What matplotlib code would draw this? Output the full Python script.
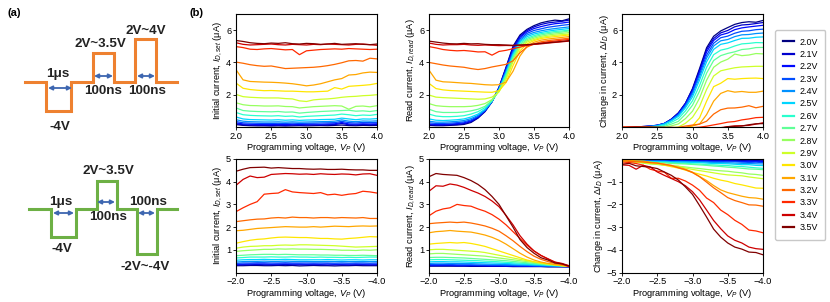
import numpy as np
import matplotlib
matplotlib.use('Agg')
import matplotlib.pyplot as plt

plt.rcParams['font.family'] = ['Liberation Sans', 'DejaVu Sans']
plt.rcParams['mathtext.fontset'] = 'custom'
plt.rcParams['mathtext.rm'] = 'Liberation Sans'
plt.rcParams['mathtext.it'] = 'Liberation Sans:italic'
plt.rcParams['axes.linewidth'] = 0.8

# gate voltage of each series (legend)
series_labels = ['2.0V', '2.1V', '2.2V', '2.3V', '2.4V', '2.5V', '2.6V', '2.7V',
                 '2.8V', '2.9V', '3.0V', '3.1V', '3.2V', '3.3V', '3.4V', '3.5V']

# programming voltage sweeps
vp_pos = [2.0, 2.1, 2.2, 2.3, 2.4, 2.5, 2.6, 2.7, 2.8, 2.9, 3.0,
          3.1, 3.2, 3.3, 3.4, 3.5, 3.6, 3.7, 3.8, 3.9, 4.0]
vp_neg = [-2.0, -2.1, -2.2, -2.3, -2.4, -2.5, -2.6, -2.7, -2.8, -2.9, -3.0,
          -3.1, -3.2, -3.3, -3.4, -3.5, -3.6, -3.7, -3.8, -3.9, -4.0]

# positive programming: initial current I_D,set (uA)
iset_pos = [
    [0.15, 0.10, 0.08, 0.07, 0.07, 0.06, 0.07, 0.06, 0.07, 0.08, 0.07, 0.08, 0.09, 0.08, 0.10, 0.12, 0.09, 0.08, 0.10, 0.09, 0.10],
    [0.20, 0.14, 0.12, 0.11, 0.10, 0.10, 0.11, 0.10, 0.12, 0.11, 0.12, 0.13, 0.12, 0.14, 0.15, 0.22, 0.14, 0.13, 0.15, 0.14, 0.15],
    [0.26, 0.19, 0.17, 0.16, 0.16, 0.15, 0.16, 0.15, 0.17, 0.16, 0.17, 0.18, 0.17, 0.19, 0.20, 0.28, 0.19, 0.18, 0.20, 0.19, 0.20],
    [0.34, 0.26, 0.24, 0.23, 0.22, 0.22, 0.23, 0.22, 0.24, 0.22, 0.23, 0.24, 0.25, 0.26, 0.27, 0.35, 0.27, 0.25, 0.28, 0.27, 0.29],
    [0.45, 0.36, 0.33, 0.32, 0.31, 0.31, 0.32, 0.30, 0.32, 0.30, 0.31, 0.32, 0.33, 0.34, 0.36, 0.44, 0.36, 0.33, 0.37, 0.36, 0.38],
    [0.62, 0.50, 0.46, 0.45, 0.44, 0.43, 0.45, 0.42, 0.44, 0.41, 0.43, 0.44, 0.46, 0.47, 0.48, 0.55, 0.50, 0.45, 0.50, 0.49, 0.52],
    [0.90, 0.76, 0.72, 0.70, 0.69, 0.68, 0.70, 0.66, 0.68, 0.62, 0.66, 0.68, 0.70, 0.72, 0.74, 0.80, 0.76, 0.70, 0.74, 0.72, 0.78],
    [1.18, 1.02, 0.98, 0.96, 0.95, 0.94, 0.96, 0.92, 0.93, 0.86, 0.90, 0.93, 0.96, 0.98, 1.00, 1.02, 1.04, 0.98, 1.00, 0.96, 1.02],
    [1.50, 1.38, 1.33, 1.32, 1.30, 1.30, 1.31, 1.27, 1.26, 1.18, 1.22, 1.26, 1.28, 1.30, 1.32, 1.30, 1.10, 1.28, 1.30, 1.25, 1.32],
    [2.02, 1.88, 1.84, 1.82, 1.80, 1.80, 1.80, 1.76, 1.74, 1.62, 1.58, 1.68, 1.72, 1.74, 1.78, 1.84, 1.88, 1.90, 1.94, 1.96, 2.00],
    [2.72, 2.40, 2.32, 2.28, 2.25, 2.26, 2.24, 2.22, 2.22, 2.20, 2.18, 2.18, 2.20, 2.22, 2.44, 2.35, 2.52, 2.55, 2.58, 2.62, 2.70],
    [3.55, 2.92, 2.82, 2.80, 2.78, 2.77, 2.75, 2.72, 2.68, 2.62, 2.55, 2.60, 2.68, 2.80, 2.92, 3.00, 3.22, 3.25, 3.35, 3.40, 3.38],
    [4.02, 3.95, 3.86, 3.80, 3.76, 3.78, 3.70, 3.62, 3.64, 3.66, 3.68, 3.70, 3.74, 3.80, 3.88, 3.98, 4.10, 4.12, 4.08, 4.26, 4.22],
    [4.98, 4.92, 4.82, 4.80, 4.84, 4.86, 4.82, 4.78, 4.80, 4.48, 4.72, 4.76, 4.80, 4.82, 4.84, 4.82, 4.86, 4.84, 4.82, 4.80, 4.82],
    [5.22, 5.12, 5.08, 5.10, 5.12, 5.14, 5.10, 5.08, 5.12, 5.10, 5.08, 5.12, 5.10, 5.14, 5.12, 5.10, 5.08, 5.12, 5.14, 5.10, 5.06],
    [5.36, 5.30, 5.22, 5.18, 5.16, 5.20, 5.18, 5.22, 5.16, 5.14, 5.18, 5.16, 5.12, 5.14, 5.18, 5.12, 5.14, 5.16, 5.12, 5.10, 5.14],
]

# positive programming: read current I_D,read (uA)
iread_pos = [
    [0.10, 0.08, 0.08, 0.10, 0.12, 0.16, 0.28, 0.55, 0.95, 1.55, 2.45, 3.70, 5.00, 5.70, 6.05, 6.28, 6.45, 6.55, 6.62, 6.58, 6.70],
    [0.14, 0.12, 0.12, 0.14, 0.16, 0.21, 0.33, 0.58, 0.98, 1.58, 2.45, 3.65, 4.92, 5.62, 5.98, 6.20, 6.35, 6.45, 6.50, 6.55, 6.62],
    [0.18, 0.16, 0.16, 0.18, 0.21, 0.26, 0.38, 0.62, 1.00, 1.58, 2.42, 3.58, 4.82, 5.55, 5.90, 6.10, 6.22, 6.32, 6.40, 6.44, 6.50],
    [0.26, 0.22, 0.22, 0.24, 0.27, 0.32, 0.44, 0.66, 1.02, 1.58, 2.38, 3.50, 4.70, 5.45, 5.80, 5.98, 6.08, 6.18, 6.24, 6.30, 6.35],
    [0.36, 0.30, 0.30, 0.32, 0.35, 0.40, 0.52, 0.72, 1.06, 1.58, 2.34, 3.42, 4.60, 5.36, 5.70, 5.86, 5.96, 6.04, 6.10, 6.15, 6.20],
    [0.50, 0.42, 0.40, 0.42, 0.45, 0.50, 0.62, 0.80, 1.10, 1.60, 2.30, 3.35, 4.50, 5.28, 5.60, 5.76, 5.86, 5.94, 6.00, 6.05, 6.10],
    [0.80, 0.68, 0.64, 0.64, 0.66, 0.70, 0.80, 0.95, 1.20, 1.62, 2.28, 3.25, 4.40, 5.20, 5.50, 5.66, 5.78, 5.85, 5.92, 5.95, 6.00],
    [1.10, 0.95, 0.90, 0.90, 0.90, 0.93, 1.00, 1.10, 1.28, 1.65, 2.25, 3.15, 4.30, 5.10, 5.42, 5.58, 5.70, 5.78, 5.84, 5.88, 5.95],
    [1.45, 1.32, 1.28, 1.26, 1.26, 1.26, 1.28, 1.34, 1.45, 1.70, 2.20, 3.05, 4.18, 5.00, 5.34, 5.50, 5.62, 5.70, 5.76, 5.80, 5.85],
    [1.98, 1.85, 1.82, 1.80, 1.78, 1.76, 1.74, 1.72, 1.74, 1.85, 2.18, 2.95, 4.05, 4.90, 5.26, 5.42, 5.55, 5.62, 5.68, 5.72, 5.76],
    [2.70, 2.38, 2.30, 2.26, 2.24, 2.22, 2.20, 2.18, 2.16, 2.15, 2.25, 2.75, 3.80, 4.72, 5.15, 5.35, 5.48, 5.55, 5.60, 5.65, 5.70],
    [3.52, 2.90, 2.80, 2.78, 2.75, 2.72, 2.70, 2.66, 2.62, 2.60, 2.62, 2.78, 3.45, 4.40, 5.00, 5.25, 5.38, 5.45, 5.50, 5.55, 5.60],
    [4.00, 3.92, 3.84, 3.78, 3.74, 3.70, 3.62, 3.56, 3.62, 3.72, 3.80, 3.88, 4.10, 4.60, 4.95, 5.15, 5.28, 5.35, 5.40, 5.45, 5.50],
    [4.98, 4.90, 4.80, 4.75, 4.72, 4.74, 4.70, 4.65, 4.66, 4.45, 4.68, 4.75, 4.85, 4.95, 5.05, 5.12, 5.20, 5.28, 5.32, 5.38, 5.42],
    [5.20, 5.12, 5.08, 5.10, 5.10, 5.12, 5.08, 5.06, 5.08, 5.06, 5.04, 5.05, 5.04, 5.06, 5.08, 5.12, 5.15, 5.20, 5.24, 5.28, 5.32],
    [5.32, 5.26, 5.20, 5.16, 5.15, 5.18, 5.15, 5.16, 5.12, 5.10, 5.10, 5.08, 5.06, 5.08, 5.10, 5.14, 5.18, 5.22, 5.26, 5.30, 5.35],
]

# negative programming: initial current I_D,set (uA)
iset_neg = [
    [0.30, 0.30, 0.31, 0.31, 0.30, 0.30, 0.31, 0.30, 0.31, 0.29, 0.30, 0.31, 0.30, 0.30, 0.29, 0.30, 0.30, 0.31, 0.30, 0.30, 0.30],
    [0.33, 0.34, 0.34, 0.35, 0.34, 0.34, 0.34, 0.35, 0.34, 0.34, 0.34, 0.34, 0.34, 0.33, 0.34, 0.34, 0.33, 0.34, 0.34, 0.33, 0.34],
    [0.36, 0.37, 0.38, 0.38, 0.38, 0.37, 0.38, 0.38, 0.38, 0.38, 0.37, 0.38, 0.37, 0.38, 0.37, 0.37, 0.37, 0.38, 0.37, 0.37, 0.37],
    [0.40, 0.42, 0.42, 0.43, 0.43, 0.42, 0.42, 0.43, 0.42, 0.42, 0.42, 0.42, 0.42, 0.42, 0.41, 0.42, 0.41, 0.42, 0.42, 0.41, 0.42],
    [0.46, 0.48, 0.49, 0.49, 0.50, 0.49, 0.49, 0.50, 0.49, 0.49, 0.49, 0.48, 0.48, 0.49, 0.48, 0.48, 0.48, 0.48, 0.48, 0.48, 0.48],
    [0.54, 0.56, 0.57, 0.57, 0.58, 0.57, 0.57, 0.58, 0.57, 0.56, 0.56, 0.56, 0.56, 0.57, 0.56, 0.55, 0.56, 0.56, 0.55, 0.56, 0.56],
    [0.64, 0.66, 0.68, 0.68, 0.68, 0.69, 0.68, 0.68, 0.69, 0.68, 0.68, 0.67, 0.68, 0.67, 0.67, 0.66, 0.67, 0.66, 0.67, 0.68, 0.68],
    [0.74, 0.76, 0.78, 0.79, 0.80, 0.80, 0.79, 0.80, 0.79, 0.78, 0.78, 0.78, 0.77, 0.77, 0.76, 0.76, 0.75, 0.75, 0.76, 0.75, 0.74],
    [0.93, 0.96, 0.98, 1.00, 1.02, 1.02, 1.04, 1.03, 1.04, 1.03, 1.03, 1.02, 1.02, 1.01, 1.00, 0.98, 0.98, 0.97, 0.99, 0.98, 1.00],
    [1.07, 1.12, 1.15, 1.16, 1.18, 1.18, 1.20, 1.21, 1.20, 1.22, 1.22, 1.21, 1.20, 1.19, 1.18, 1.16, 1.14, 1.12, 1.13, 1.14, 1.15],
    [1.29, 1.36, 1.42, 1.46, 1.48, 1.52, 1.55, 1.56, 1.55, 1.54, 1.54, 1.52, 1.50, 1.50, 1.48, 1.47, 1.50, 1.52, 1.55, 1.58, 1.57],
    [1.84, 1.86, 1.90, 1.94, 1.96, 1.98, 2.00, 2.02, 2.01, 2.00, 2.00, 2.02, 2.00, 2.02, 2.04, 2.03, 2.02, 2.04, 2.05, 2.04, 2.05],
    [2.24, 2.28, 2.32, 2.35, 2.36, 2.40, 2.42, 2.40, 2.44, 2.42, 2.42, 2.40, 2.42, 2.42, 2.40, 2.42, 2.41, 2.40, 2.42, 2.38, 2.38],
    [2.68, 2.85, 3.00, 3.12, 3.45, 3.48, 3.50, 3.65, 3.55, 3.52, 3.50, 3.48, 3.52, 3.42, 3.45, 3.40, 3.45, 3.48, 3.58, 3.55, 3.50],
    [3.84, 4.10, 4.25, 4.18, 4.20, 4.32, 4.34, 4.36, 4.35, 4.33, 4.34, 4.32, 4.35, 4.33, 4.32, 4.34, 4.33, 4.30, 4.34, 4.35, 4.28],
    [4.46, 4.55, 4.62, 4.63, 4.64, 4.60, 4.62, 4.60, 4.58, 4.58, 4.56, 4.55, 4.56, 4.54, 4.54, 4.55, 4.53, 4.52, 4.52, 4.50, 4.50],
]

# negative programming: read current I_D,read (uA)
iread_neg = [
    [0.28, 0.28, 0.28, 0.28, 0.28, 0.28, 0.27, 0.27, 0.27, 0.27, 0.27, 0.27, 0.26, 0.26, 0.26, 0.26, 0.26, 0.25, 0.25, 0.25, 0.25],
    [0.30, 0.30, 0.30, 0.30, 0.29, 0.29, 0.29, 0.29, 0.29, 0.28, 0.28, 0.28, 0.28, 0.27, 0.27, 0.27, 0.27, 0.26, 0.26, 0.26, 0.25],
    [0.32, 0.32, 0.32, 0.32, 0.31, 0.31, 0.31, 0.31, 0.30, 0.30, 0.30, 0.29, 0.29, 0.29, 0.28, 0.28, 0.27, 0.27, 0.27, 0.26, 0.26],
    [0.35, 0.35, 0.35, 0.35, 0.34, 0.34, 0.34, 0.33, 0.33, 0.32, 0.32, 0.31, 0.31, 0.30, 0.30, 0.29, 0.29, 0.28, 0.27, 0.27, 0.26],
    [0.40, 0.41, 0.41, 0.40, 0.40, 0.39, 0.39, 0.38, 0.37, 0.36, 0.36, 0.35, 0.34, 0.33, 0.32, 0.31, 0.30, 0.29, 0.28, 0.27, 0.26],
    [0.47, 0.48, 0.48, 0.47, 0.47, 0.46, 0.45, 0.44, 0.43, 0.42, 0.41, 0.40, 0.38, 0.37, 0.36, 0.34, 0.33, 0.31, 0.30, 0.28, 0.27],
    [0.56, 0.57, 0.57, 0.56, 0.55, 0.54, 0.53, 0.52, 0.50, 0.49, 0.47, 0.45, 0.43, 0.41, 0.39, 0.37, 0.35, 0.33, 0.31, 0.29, 0.27],
    [0.66, 0.67, 0.67, 0.66, 0.65, 0.64, 0.62, 0.60, 0.58, 0.56, 0.54, 0.52, 0.49, 0.46, 0.43, 0.40, 0.37, 0.34, 0.32, 0.30, 0.27],
    [0.82, 0.84, 0.84, 0.82, 0.80, 0.78, 0.76, 0.74, 0.72, 0.68, 0.64, 0.60, 0.56, 0.52, 0.48, 0.44, 0.40, 0.36, 0.33, 0.30, 0.28],
    [1.00, 1.02, 1.02, 1.00, 0.98, 0.96, 0.94, 0.92, 0.88, 0.82, 0.76, 0.70, 0.64, 0.58, 0.52, 0.46, 0.42, 0.38, 0.34, 0.31, 0.28],
    [1.25, 1.28, 1.30, 1.32, 1.30, 1.32, 1.28, 1.22, 1.15, 1.05, 0.95, 0.85, 0.75, 0.65, 0.55, 0.48, 0.42, 0.38, 0.34, 0.30, 0.28],
    [1.75, 1.80, 1.82, 1.85, 1.82, 1.80, 1.78, 1.72, 1.65, 1.55, 1.42, 1.25, 1.05, 0.85, 0.68, 0.55, 0.46, 0.40, 0.35, 0.32, 0.28],
    [2.15, 2.18, 2.20, 2.22, 2.20, 2.22, 2.18, 2.12, 2.05, 1.95, 1.82, 1.62, 1.40, 1.15, 0.92, 0.72, 0.58, 0.48, 0.40, 0.35, 0.30],
    [2.50, 2.70, 2.80, 2.85, 3.00, 2.95, 2.92, 2.80, 2.70, 2.55, 2.35, 2.10, 1.80, 1.50, 1.20, 0.95, 0.75, 0.60, 0.45, 0.38, 0.25],
    [3.58, 3.82, 3.80, 3.90, 3.85, 3.75, 3.62, 3.50, 3.35, 3.15, 2.90, 2.52, 2.10, 1.62, 1.25, 0.95, 0.75, 0.60, 0.46, 0.40, 0.30],
    [4.22, 4.36, 4.32, 4.30, 4.28, 4.18, 4.05, 3.88, 3.65, 3.35, 3.00, 2.50, 2.00, 1.45, 1.10, 0.85, 0.65, 0.55, 0.42, 0.38, 0.28],
]

# change in current = read - initial
dI_pos = np.array(iread_pos) - np.array(iset_pos)
dI_neg = np.array(iread_neg) - np.array(iset_neg)

# schematic pulse trains for panel (a), in figure pixels
pulse_set_x = [25, 46, 46, 71, 71, 93, 93, 114, 114, 135, 135, 156, 156, 177]
pulse_set_y = [82, 82, 111, 111, 82, 82, 53, 53, 82, 82, 39, 39, 82, 82]
pulse_reset_x = [29, 51, 51, 76, 76, 97, 97, 117, 117, 137, 137, 157, 157, 177]
pulse_reset_y = [209, 209, 237, 237, 209, 209, 181, 181, 209, 209, 254, 254, 209, 209]

W, H = 830, 302
fig = plt.figure(figsize=(8.3, 3.02), dpi=100)

# ---- panel (a) drawn on a pixel overlay
axa = fig.add_axes([0, 0, 1, 1], zorder=0)
axa.set_xlim(0, W)
axa.set_ylim(H, 0)
axa.axis('off')
axa.plot(pulse_set_x, pulse_set_y, color='#EE8130', lw=2.2, solid_joinstyle='miter')
axa.plot(pulse_reset_x, pulse_reset_y, color='#6DB045', lw=2.2, solid_joinstyle='miter')

arrow_col = '#3D66B0'
arrows = [(48, 72, 88), (94, 113, 76), (137, 155, 76),
          (53, 74, 213), (97, 115, 202), (138, 155, 213)]
for x0, x1, y in arrows:
    axa.annotate('', xy=(x1, y), xytext=(x0, y),
                 arrowprops=dict(arrowstyle='<|-|>', color=arrow_col, lw=1.3,
                                 mutation_scale=6, shrinkA=0, shrinkB=0))

pulse_texts = [('1μs', 58, 74), ('-4V', 60, 127), ('2V~3.5V', 100, 44),
               ('100ns', 103, 91), ('100ns', 147, 91), ('2V~4V', 146, 31),
               ('2V~3.5V', 108, 171), ('1μs', 61, 202), ('100ns', 108, 217),
               ('100ns', 148, 202), ('-4V', 62, 249), ('-2V~-4V', 145, 267)]
for s, x, y in pulse_texts:
    axa.text(x, y, s, ha='center', va='center', fontsize=9.6, fontweight='bold',
             color='#222222')
axa.text(14, 13, '(a)', ha='center', va='center', fontsize=8, fontweight='bold')
axa.text(196, 13, '(b)', ha='center', va='center', fontsize=8, fontweight='bold')

# ---- panel (b)
colors = plt.cm.jet(np.linspace(0, 1, len(series_labels)))

cols = [(236, 377), (429, 569), (622, 763)]
rows = [(14, 127), (159, 272.5)]


def make_ax(c, r):
    x0, x1 = cols[c]
    y0, y1 = rows[r]
    return fig.add_axes([x0 / W, 1 - y1 / H, (x1 - x0) / W, (y1 - y0) / H], zorder=2)


panels = [
    (0, 0, vp_pos, iset_pos, r'Initial current, $I_{D,set}$ (μA)', (0, 7), [2, 4, 6]),
    (1, 0, vp_pos, iread_pos, r'Read current, $I_{D,read}$ (μA)', (0, 7), [2, 4, 6]),
    (2, 0, vp_pos, dI_pos, r'Change in current, $\Delta I_D$ (μA)', (0, 7), [2, 4, 6]),
    (0, 1, vp_neg, iset_neg, r'Initial current, $I_{D,set}$ (μA)', (0, 5), [1, 2, 3, 4, 5]),
    (1, 1, vp_neg, iread_neg, r'Read current, $I_{D,read}$ (μA)', (0, 5), [1, 2, 3, 4, 5]),
    (2, 1, vp_neg, dI_neg, r'Change in current, $\Delta I_D$ (μA)', (-5, 0), [-1, -2, -3, -4, -5]),
]

fs = 6.7
handles = []
for c, r, vx, data, ylab, ylim, yt in panels:
    ax = make_ax(c, r)
    for k, row in enumerate(data):
        ln, = ax.plot(vx, row, color=colors[k], lw=0.9, label=series_labels[k])
        if c == 0 and r == 0:
            handles.append(ln)
    if r == 0:
        ax.set_xlim(2.0, 4.0)
        ax.set_xticks([2.0, 2.5, 3.0, 3.5, 4.0])
        ax.set_xticklabels(['2.0', '2.5', '3.0', '3.5', '4.0'])
    else:
        ax.set_xlim(-2.0, -4.0)
        ax.set_xticks([-2.0, -2.5, -3.0, -3.5, -4.0])
        ax.set_xticklabels(['\u22122.0', '\u22122.5', '\u22123.0', '\u22123.5', '\u22124.0'])
    ax.set_ylim(*ylim)
    ax.set_yticks(yt)
    ax.set_yticklabels([str(v).replace('-', '\u2212') for v in yt])
    ax.tick_params(labelsize=fs, length=2, width=0.6, pad=1.5)
    ax.set_xlabel(r'Programming voltage, $V_P$ (V)', fontsize=fs, labelpad=0.2)
    ax.set_ylabel(ylab, fontsize=fs, labelpad=1)

leg = fig.legend(handles, series_labels, loc='upper left',
                 bbox_to_anchor=(775 / W, 1 - 30 / H), borderaxespad=0, fontsize=6.4,
                 handlelength=1.3, handletextpad=0.6, labelspacing=0.38,
                 borderpad=0.85, frameon=True, fancybox=True, edgecolor='#bbbbbb')
for ln in leg.get_lines():
    ln.set_linewidth(1.6)

fig.savefig('out.png', dpi=100)
